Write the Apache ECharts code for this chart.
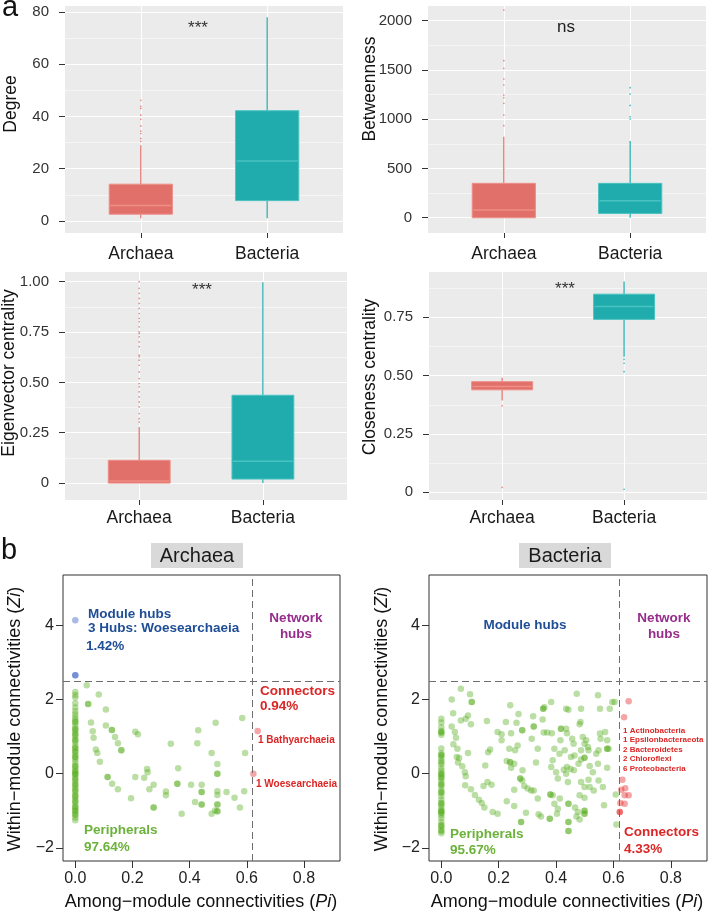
<!DOCTYPE html>
<html>
<head>
<meta charset="utf-8">
<title>Network topology: Archaea vs Bacteria</title>
<script src="https://cdn.jsdelivr.net/npm/echarts@6.0.0/dist/echarts.min.js"></script>
<style>
  html, body { margin: 0; padding: 0; background: #fff; }
  #main { width: 709px; height: 913px; }
</style>
</head>
<body>
<div id="main"></div>
<script>
const FONT = '"Liberation Sans", Arial, Helvetica, sans-serif'

// ---- data: panel a (boxplots) ----
const groups = ['Archaea', 'Bacteria']
// [min, Q1, median, Q3, max] per group
const degreeBox = [[1, 2.6, 5.9, 14.1, 29], [1, 7.8, 23, 42.2, 78]]
const degreeOut = [[30.5, 31.6, 33.5, 34.4, 36.4, 38.9, 40.5, 43.1, 43.9, 46.2], []]
const betweenBox = [[0, 0, 78, 349, 822], [0, 44, 173, 349, 778]]
const betweenOut = [[934, 1042, 1161, 1218, 1245, 1347, 1408, 1516, 1594, 2108], [1002, 1025, 1140, 1255, 1320]]
const eigenBox = [[0, 0, 0.01, 0.113, 0.279], [0, 0.02, 0.108, 0.436, 0.997]]
const eigenOut = [[0.303, 0.32, 0.345, 0.378, 0.403, 0.428, 0.453, 0.478, 0.494, 0.519, 0.552, 0.585, 0.61, 0.627,
  0.635, 0.677, 0.701, 0.726, 0.743, 0.751, 0.776, 0.801, 0.818, 0.842, 0.867, 0.892, 0.917, 0.942, 0.967, 1.0], []]
const closeBox = [[0.393, 0.439, 0.453, 0.474, 0.491], [0.581, 0.741, 0.796, 0.849, 0.903]]
const closeOut = [[0.371, 0.021], [0.57, 0.553, 0.517, 0.013]]

const degreeTicks = [0, 20, 40, 60, 80]
const degreeMinor = [10, 30, 50, 70]
const betweenTicks = [0, 500, 1000, 1500, 2000]
const betweenMinor = [250, 750, 1250, 1750]
const eigenTicks = [0, 0.25, 0.5, 0.75, 1]
const eigenMinor = [0.125, 0.375, 0.625, 0.875]
const closeTicks = [0, 0.25, 0.5, 0.75]
const closeMinor = [0.125, 0.375, 0.625, 0.875]

// ---- data: panel b (Zi-Pi plots), [Pi, Zi] ----
const archaeaZeroPi = [2.2, 2.12, 2.05, 1.9, 1.78, 1.68, 1.6, 1.52, 1.45, 1.4, 1.38, 1.3, 1.22, 1.2, 1.15, 1.08, 1.05, 1.0,
  0.92, 0.9, 0.85, 0.75, 0.7, 0.68, 0.6, 0.6, 0.52, 0.45, 0.45, 0.38, 0.3, 0.22, 0.2, 0.15, 0.08, 0.05, 0.0, 0.0, -0.05,
  -0.12, -0.15, -0.2, -0.28, -0.3, -0.35, -0.42, -0.45, -0.5, -0.58, -0.6, -0.65, -0.72, -0.75, -0.8, -0.88, -0.9,
  -0.95, -1.0, -1.02, -1.1, -1.1, -1.18, -1.25]
const archaeaPeriph = [[0.04, 2.38], [0.082, 2.13], [0.045, 1.88], [0.045, 1.88], [0.107, 1.73], [0.055, 1.38],
  [0.061, 1.14], [0.064, 0.97], [0.072, 0.65], [0.077, 0.56], [0.086, 0.32], [0.107, 1.3], [0.128, 1.18], [0.128, 1.18],
  [0.139, 0.99], [0.149, 0.82], [0.161, 0.63], [0.161, 0.63], [0.113, -0.09], [0.113, -0.09], [0.129, -0.27],
  [0.149, -0.42], [0.195, -0.66], [0.21, 1.13], [0.219, 1.06], [0.21, -0.09], [0.241, -0.11], [0.251, 0.13],
  [0.253, 0.04], [0.259, -0.42], [0.274, -0.3], [0.274, -0.91], [0.274, -0.91], [0.317, -0.48], [0.317, -0.58],
  [0.334, 0.81], [0.357, -0.27], [0.357, -0.27], [0.36, 0.15], [0.372, -1.08], [0.405, -0.3], [0.419, -0.76],
  [0.427, 0.82], [0.43, 1.17], [0.442, -0.3], [0.442, -0.49], [0.442, -0.49], [0.442, -0.83], [0.442, -0.83],
  [0.477, 0.56], [0.477, -1.08], [0.489, -0.99], [0.491, 1.37], [0.497, 0.26], [0.497, 0.0], [0.497, 0.0],
  [0.497, -0.47], [0.497, -0.57], [0.497, -0.83], [0.497, -0.83], [0.497, -1.01], [0.497, -1.01], [0.529, -0.49],
  [0.557, -0.65], [0.576, -0.91], [0.584, 1.5], [0.591, -0.47], [0.594, 0.56]]
const archaeaHubs = [[0, 4.13], [0, 2.65], [0, 2.65]]
const archaeaConnectors = [[0.638, 1.15], [0.623, 0.0]]

const bacteriaZeroPi = [1.48, 1.38, 1.25, 1.15, 1.12, 1.1, 1.05, 0.68, 0.55, 0.5, 0.5, 0.42, 0.35, 0.3, 0.25, 0.15,
  0.08, 0.0, 0.0, -0.05, -0.1, -0.12, -0.2, -0.28, -0.3, -0.35, -0.45, -0.5, -0.52, -0.6, -0.7, -0.78, -0.8, -0.85,
  -0.92, -1.0, -1.0, -1.05, -1.05, -1.12, -1.2, -1.3, -1.38, -1.4, -1.45, -1.52, -1.55, -1.6]
const bacteriaPeriph = [[0.068, 2.29], [0.036, 2.0], [0.1, 2.14], [0.106, 1.93], [0.106, 1.93], [0.041, 1.63],
  [0.068, 1.43], [0.085, 1.48], [0.093, 1.57], [0.103, 1.33], [0.036, 1.27], [0.047, 1.12], [0.051, 0.97],
  [0.042, 0.79], [0.056, 0.67], [0.062, 0.42], [0.054, 0.45], [0.058, 0.3], [0.073, 0.2], [0.082, 0.04],
  [0.085, -0.07], [0.083, -0.31], [0.093, 0.56], [0.103, -0.42], [0.117, -0.57], [0.131, -0.7], [0.141, -0.79],
  [0.15, -0.91], [0.159, 1.42], [0.163, 0.58], [0.17, 0.65], [0.153, 0.22], [0.147, -0.33], [0.161, -0.22],
  [0.175, -0.3], [0.179, -1.03], [0.196, -1.08], [0.196, 1.12], [0.21, 1.06], [0.21, 0.9], [0.225, 1.39],
  [0.24, 1.84], [0.243, 1.09], [0.237, 0.67], [0.228, 0.34], [0.24, 0.31], [0.24, 0.31], [0.243, 0.16],
  [0.254, 0.27], [0.257, 0.63], [0.266, 0.76], [0.262, 1.37], [0.269, 1.61], [0.282, 1.17], [0.282, 1.17],
  [0.283, 0.09], [0.228, -0.74], [0.254, -0.87], [0.254, -0.43], [0.275, -0.13], [0.275, -0.13], [0.282, -0.18],
  [0.289, -0.33], [0.295, -1.05], [0.278, -1.3], [0.278, -1.3], [0.301, -0.4], [0.313, -0.45], [0.322, -0.45],
  [0.32, 1.55], [0.322, 1.27], [0.322, 1.27], [0.315, 0.94], [0.336, 0.67], [0.33, 0.3], [0.336, -0.67],
  [0.339, -1.09], [0.347, -1.15], [0.355, 1.75], [0.355, 1.75], [0.359, 1.79], [0.353, 1.46], [0.357, 1.11],
  [0.369, 1.11], [0.383, 1.93], [0.385, 1.09], [0.388, 0.36], [0.383, 0.18], [0.394, 0.67], [0.4, 0.04],
  [0.38, -0.56], [0.38, -0.56], [0.388, -0.58], [0.378, -1.21], [0.378, -1.21], [0.403, -1.08], [0.406, -0.94],
  [0.394, -0.81], [0.413, -0.67], [0.406, -0.13], [0.412, 0.54], [0.415, 0.9], [0.417, 1.21], [0.417, 1.21],
  [0.435, 1.21], [0.438, 1.09], [0.435, 1.75], [0.443, 1.72], [0.43, 0.63], [0.427, 0.11], [0.435, 0.0],
  [0.438, 0.18], [0.441, -0.22], [0.452, 0.45], [0.456, 0.94], [0.461, 0.81], [0.464, 0.49], [0.462, 0.09],
  [0.45, 0.13], [0.443, -0.81], [0.443, -0.81], [0.443, -1.3], [0.443, -1.3], [0.443, -1.54], [0.443, -1.54],
  [0.466, -0.91], [0.471, -1.15], [0.476, -1.03], [0.482, -1.23], [0.472, 2.15], [0.485, 1.39], [0.482, 1.33],
  [0.487, 1.75], [0.493, 0.99], [0.499, 0.81], [0.487, 0.63], [0.478, 0.27], [0.487, 0.38], [0.499, 0.43],
  [0.499, 0.43], [0.499, -0.36], [0.487, -0.22], [0.482, -0.58], [0.499, -0.65], [0.499, -1.0], [0.499, -1.0],
  [0.499, -1.08], [0.499, -1.08], [0.505, 0.9], [0.511, 0.72], [0.513, 0.63], [0.517, 0.21], [0.513, -0.16],
  [0.517, -0.36], [0.528, 0.04], [0.531, -0.45], [0.546, 2.11], [0.553, 1.75], [0.553, 1.08], [0.555, 0.94],
  [0.571, 1.12], [0.548, 0.63], [0.546, 0.27], [0.54, 0.54], [0.548, -0.18], [0.567, -0.85], [0.578, 0.9],
  [0.578, 0.67], [0.578, 0.67], [0.583, 0.67], [0.578, 0.16], [0.563, -0.36], [0.587, 1.75], [0.596, 1.93],
  [0.604, 1.93], [0.608, -0.56], [0.61, -1.37]]
const bacteriaConnectors = [[0.653, 1.95], [0.637, 1.52], [0.631, -0.16], [0.627, -0.43], [0.641, -0.39],
  [0.639, -0.58], [0.653, -0.58], [0.624, -0.79], [0.639, -0.81], [0.622, -1.03], [0.622, -1.03]]

const ziThreshold = 2.5
const piThreshold = 0.62
const piTicks = [0, 0.2, 0.4, 0.6, 0.8]
const ziTicks = [-2, 0, 2, 4]

// ---- styles ----
const boxFill = ['#E2706A', '#20ACAC']
const boxEdge = ['#EE8E87', '#49C2C2']
const periphColor = 'rgba(84, 172, 28, 0.5)'
const hubColor = 'rgba(40, 82, 190, 0.5)'
const connColor = 'rgba(228, 30, 30, 0.5)'
const blueText = '#1F4E96'
const purpleText = '#962D8C'
const redText = '#DC2626'
const greenText = '#6BB23A'

const boxPanels = [
  { box: degreeBox, out: degreeOut, ticks: degreeTicks, minor: degreeMinor, grid: [65, 6, 278, 227], y: [-4.6, 82.3], xMax: 2.6, labelGap: 12 },
  { box: betweenBox, out: betweenOut, ticks: betweenTicks, minor: betweenMinor, grid: [428, 6, 278, 227], y: [-155, 2149], xMax: 2.6, labelGap: 12 },
  { box: eigenBox, out: eigenOut, ticks: eigenTicks, minor: eigenMinor, grid: [65, 272, 282, 228], y: [-0.084, 1.048], xMax: 2.68, labelGap: 9, fixed: true },
  { box: closeBox, out: closeOut, ticks: closeTicks, minor: closeMinor, grid: [429, 272, 278, 228], y: [-0.033, 0.944], xMax: 2.68, labelGap: 9, fixed: true }
]
const scatterPanels = [
  { zero: archaeaZeroPi, periph: archaeaPeriph, hubs: archaeaHubs, conn: archaeaConnectors, grid: [63, 575, 277, 286] },
  { zero: bacteriaZeroPi, periph: bacteriaPeriph, hubs: [], conn: bacteriaConnectors, grid: [429, 575, 278, 286] }
]

function renderBox(params, api) {
  const x = api.value(0)
  const i = x - 1
  const half = api.size([0.5, 0])[0] / 2
  const pMin = api.coord([x, api.value(1)])
  const pQ1 = api.coord([x, api.value(2)])
  const pMed = api.coord([x, api.value(3)])
  const pQ3 = api.coord([x, api.value(4)])
  const pMax = api.coord([x, api.value(5)])
  return {
    type: 'group',
    children: [
      { type: 'line', shape: { x1: pMin[0], y1: pMin[1], x2: pQ1[0], y2: pQ1[1] }, style: { stroke: boxFill[i], lineWidth: 1.2 } },
      { type: 'line', shape: { x1: pQ3[0], y1: pQ3[1], x2: pMax[0], y2: pMax[1] }, style: { stroke: boxFill[i], lineWidth: 1.2 } },
      { type: 'rect', shape: { x: pQ3[0] - half, y: pQ3[1], width: half * 2, height: Math.max(pQ1[1] - pQ3[1], 1) },
        style: { fill: boxFill[i], stroke: boxEdge[i], lineWidth: 1 } },
      { type: 'line', shape: { x1: pMed[0] - half + 1, y1: pMed[1], x2: pMed[0] + half - 1, y2: pMed[1] },
        style: { stroke: boxEdge[i], lineWidth: 1.5 } }
    ]
  }
}

const grid = []
const xAxis = []
const yAxis = []
const series = []

// yAxis order: 0-3 major box axes, 4-7 minor box axes, 8-9 scatter axes
boxPanels.forEach((p, k) => {
  grid.push({ left: p.grid[0], top: p.grid[1], width: p.grid[2], height: p.grid[3], show: true,
    backgroundColor: '#EBEBEB', borderWidth: 0 })
  xAxis.push({
    type: 'value', gridIndex: k, min: 0.4, max: p.xMax, position: 'bottom',
    axisLine: { show: false, onZero: false },
    axisTick: { show: true, length: 5, customValues: [1, 2], lineStyle: { color: '#333' } },
    axisLabel: { customValues: [1, 2], formatter: v => groups[v - 1], fontSize: 17.5, color: '#1a1a1a', margin: p.labelGap, fontFamily: FONT },
    splitLine: { show: true, lineStyle: { color: '#fff', width: 1.1 } }
  })
  yAxis.push({
    type: 'value', gridIndex: k, min: p.y[0], max: p.y[1], position: 'left',
    axisLine: { show: false, onZero: false },
    axisTick: { show: true, length: 6, customValues: p.ticks, lineStyle: { color: '#333' } },
    axisLabel: { customValues: p.ticks, fontSize: 15, color: '#333', margin: 16, fontFamily: FONT,
      formatter: v => (p.fixed && v !== 0) ? v.toFixed(2) : String(v) },
    splitLine: { show: true, lineStyle: { color: '#fff', width: 1.1 } }
  })
  series.push({
    type: 'custom', xAxisIndex: k, yAxisIndex: k, renderItem: renderBox,
    encode: { x: 0, y: [1, 2, 3, 4, 5] },
    data: p.box.map((b, i) => [i + 1].concat(b)),
    z: 3
  })
  p.out.forEach((vals, i) => {
    series.push({
      type: 'scatter', xAxisIndex: k, yAxisIndex: k, symbolSize: 1.7, z: 4,
      itemStyle: { color: boxFill[i], opacity: 0.8 },
      data: vals.map(v => [i + 1, v])
    })
  })
})

// minor grid lines for the boxplot panels
boxPanels.forEach((p, k) => {
  yAxis.push({
    type: 'value', gridIndex: k, min: p.y[0], max: p.y[1], position: 'left',
    axisLine: { show: false, onZero: false }, axisLabel: { show: false },
    axisTick: { show: false, customValues: p.minor },
    splitLine: { show: true, lineStyle: { color: '#fff', width: 0.5 } }
  })
})

scatterPanels.forEach((p, j) => {
  const k = 4 + j
  const yi = 8 + j
  grid.push({ left: p.grid[0], top: p.grid[1], width: p.grid[2], height: p.grid[3], show: true,
    backgroundColor: 'transparent', borderColor: '#333', borderWidth: 1 })
  xAxis.push({
    type: 'value', gridIndex: k, min: -0.043, max: 0.926, position: 'bottom',
    axisLine: { show: false, onZero: false },
    axisTick: { show: true, length: 7, customValues: piTicks, lineStyle: { color: '#333' } },
    axisLabel: { customValues: piTicks, formatter: v => v.toFixed(1), fontSize: 16, color: '#222', margin: 10, fontFamily: FONT },
    splitLine: { show: false }
  })
  yAxis.push({
    type: 'value', gridIndex: k, min: -2.35, max: 5.35, position: 'left',
    axisLine: { show: false, onZero: false },
    axisTick: { show: true, length: 7, customValues: ziTicks, lineStyle: { color: '#333' } },
    axisLabel: { customValues: ziTicks, formatter: v => v < 0 ? '\u2212' + Math.abs(v) : String(v),
      fontSize: 16, color: '#222', margin: 9, fontFamily: FONT },
    splitLine: { show: false }
  })
  series.push({
    type: 'scatter', xAxisIndex: k, yAxisIndex: yi, symbolSize: 6.5, z: 3,
    itemStyle: { color: periphColor },
    data: p.zero.map(z => [0, z]).concat(p.periph),
    markLine: {
      silent: true, symbol: 'none', label: { show: false },
      lineStyle: { color: '#6e6e6e', type: [7, 4], width: 1 },
      data: [{ yAxis: ziThreshold }, { xAxis: piThreshold }]
    }
  })
  series.push({ type: 'scatter', xAxisIndex: k, yAxisIndex: yi, symbolSize: 6.5, z: 4, itemStyle: { color: hubColor }, data: p.hubs })
  series.push({ type: 'scatter', xAxisIndex: k, yAxisIndex: yi, symbolSize: 6.5, z: 4, itemStyle: { color: connColor }, data: p.conn })
})

function txt(text, x, y, size, color, extra) {
  return {
    type: 'text', x, y, silent: true,
    style: Object.assign({ text, fontSize: size, fontFamily: FONT, fill: color, align: 'left', verticalAlign: 'middle' }, extra || {})
  }
}
function vtxt(text, x, y, size, rich) {
  return {
    type: 'text', x, y, rotation: Math.PI / 2, silent: true,
    style: { text, fontSize: size, fontFamily: FONT, fill: '#111', align: 'center', verticalAlign: 'middle', rich }
  }
}
const italicRich = { n: { fontSize: 18, fontFamily: FONT, fill: '#111' }, i: { fontSize: 18, fontFamily: FONT, fontStyle: 'italic', fill: '#111' } }
const bold = { fontWeight: 'bold' }
const center = { align: 'center' }
const boldC = { fontWeight: 'bold', align: 'center' }
const piTitle = '{n|Among\u2212module connectivities (}{i|Pi}{n|)}'
const ziTitle = '{n|Within\u2212module connectivities (}{i|Zi}{n|)}'

const graphic = [
  txt('a', 2, 8, 29, '#111'),
  txt('b', 1, 551, 29, '#111'),
  vtxt('Degree', 11, 104, 17.5),
  vtxt('Betweenness', 370, 89, 17.5),
  vtxt('Eigenvector centrality', 9, 373, 17.5),
  vtxt('Closeness centrality', 370, 377, 17.5),
  txt('***', 198, 28, 17, '#333', center),
  txt('ns', 566, 27, 17, '#222', center),
  txt('***', 202, 290, 17, '#333', center),
  txt('***', 565, 289, 17, '#333', center),
  { type: 'rect', shape: { x: 151, y: 543, width: 92, height: 25 }, style: { fill: '#D9D9D9' }, silent: true },
  { type: 'rect', shape: { x: 519, y: 543, width: 92, height: 25 }, style: { fill: '#D9D9D9' }, silent: true },
  txt('Archaea', 197, 556, 20, '#1a1a1a', center),
  txt('Bacteria', 565, 556, 20, '#1a1a1a', center),
  vtxt(ziTitle, 15, 719, 18, italicRich),
  vtxt(ziTitle, 382, 719, 18, italicRich),
  { type: 'text', x: 201, y: 902, silent: true, style: { text: piTitle, align: 'center', verticalAlign: 'middle', rich: italicRich } },
  { type: 'text', x: 567, y: 902, silent: true, style: { text: piTitle, align: 'center', verticalAlign: 'middle', rich: italicRich } },
  // Archaea annotations
  txt('Module hubs', 88, 614, 13.5, blueText, bold),
  txt('3 Hubs: Woesearchaeia', 88, 628.5, 13.5, blueText, bold),
  txt('1.42%', 86, 646, 13.5, blueText, bold),
  txt('Network', 296, 618, 13.5, purpleText, boldC),
  txt('hubs', 296, 634.5, 13.5, purpleText, boldC),
  txt('Connectors', 260, 691, 13.5, redText, bold),
  txt('0.94%', 260, 706, 13.5, redText, bold),
  txt('1 Bathyarchaeia', 258, 740.5, 10, redText, bold),
  txt('1 Woesearchaeia', 256, 784, 10, redText, bold),
  txt('Peripherals', 84, 830.5, 13.5, greenText, bold),
  txt('97.64%', 84, 847, 13.5, greenText, bold),
  // Bacteria annotations
  txt('Module hubs', 525, 625.5, 13.5, blueText, boldC),
  txt('Network', 664, 618, 13.5, purpleText, boldC),
  txt('hubs', 664, 634.5, 13.5, purpleText, boldC),
  txt('1 Actinobacteria', 623, 730.5, 8, redText, bold),
  txt('1 Epsilonbacteraeota', 623, 740, 8, redText, bold),
  txt('2 Bacteroidetes', 623, 749.5, 8, redText, bold),
  txt('2 Chloroflexi', 623, 759, 8, redText, bold),
  txt('6 Proteobacteria', 623, 768.5, 8, redText, bold),
  txt('Connectors', 624, 832.5, 13.5, redText, bold),
  txt('4.33%', 624, 849, 13.5, redText, bold),
  txt('Peripherals', 450, 834.5, 13.5, greenText, bold),
  txt('95.67%', 450, 850.5, 13.5, greenText, bold)
]

const chart = echarts.init(document.getElementById('main'))
chart.setOption({
  animation: false,
  textStyle: { fontFamily: FONT },
  grid,
  xAxis,
  yAxis,
  series,
  graphic
})
</script>
</body>
</html>
